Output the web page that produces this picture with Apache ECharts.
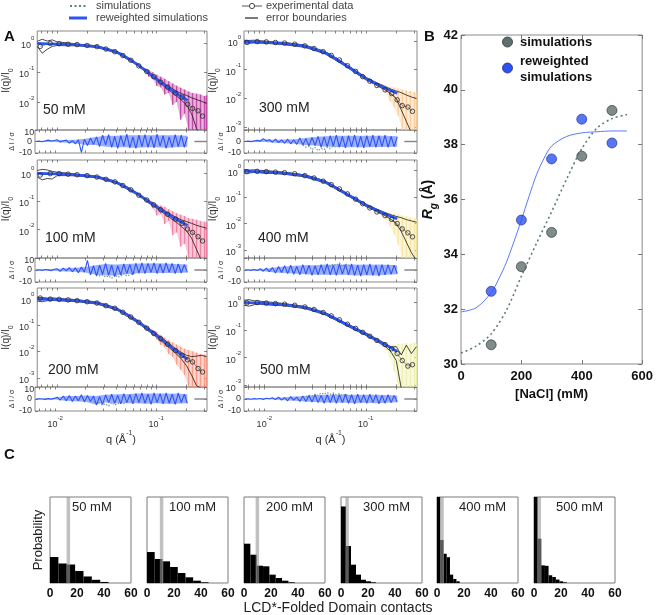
<!DOCTYPE html>
<html>
<head>
<meta charset="utf-8">
<title>SAXS reweighting figure</title>
<script src="https://cdn.jsdelivr.net/npm/echarts@6.0.0/dist/echarts.min.js"></script>
<style>
html,body{margin:0;padding:0;background:#ffffff;}
#chart{width:656px;height:615px;}
</style>
</head>
<body>
<div id="chart"></div>
<script>
const FONT = "'Liberation Sans', Arial, Helvetica, sans-serif";

// ================= Panel A data (log10 units) =================
const concLabels = ['50 mM', '100 mM', '200 mM', '300 mM', '400 mM', '500 mM'];

// reweighted / simulated curves: log10 q  vs  log10 I/I0
const log10qFit = [-2.2, -2.0, -1.8, -1.6, -1.4, -1.3, -1.2, -1.1, -1.0, -0.9, -0.8, -0.69];
const rew50  = [-0.02, -0.04, -0.07, -0.13, -0.32, -0.50, -0.72, -0.97, -1.23, -1.48, -1.72, -1.95];
const rew100 = [-0.02, -0.04, -0.08, -0.15, -0.35, -0.52, -0.73, -0.96, -1.20, -1.43, -1.65, -1.85];
const rew200 = [-0.02, -0.04, -0.08, -0.17, -0.40, -0.60, -0.85, -1.12, -1.40, -1.70, -2.00, -2.30];
const rew300 = [-0.02, -0.04, -0.09, -0.18, -0.41, -0.61, -0.84, -1.07, -1.30, -1.48, -1.65, -1.82];
const rew400 = [-0.02, -0.05, -0.10, -0.20, -0.43, -0.63, -0.86, -1.08, -1.30, -1.48, -1.65, -1.82];
const rew500 = [-0.02, -0.05, -0.10, -0.20, -0.42, -0.60, -0.79, -0.97, -1.15, -1.35, -1.55, -1.77];
const sim50  = [-0.02, -0.04, -0.07, -0.13, -0.31, -0.49, -0.71, -0.96, -1.22, -1.47, -1.71, -1.94];
const sim100 = [-0.02, -0.04, -0.07, -0.14, -0.33, -0.50, -0.71, -0.94, -1.18, -1.41, -1.63, -1.84];
const sim200 = [-0.02, -0.04, -0.07, -0.16, -0.38, -0.58, -0.83, -1.10, -1.38, -1.68, -1.98, -2.28];
const sim300 = [-0.02, -0.04, -0.08, -0.16, -0.37, -0.57, -0.80, -1.03, -1.27, -1.46, -1.64, -1.81];
const sim400 = [-0.02, -0.05, -0.10, -0.21, -0.45, -0.66, -0.88, -1.10, -1.31, -1.49, -1.66, -1.83];
const sim500 = [-0.02, -0.05, -0.11, -0.22, -0.44, -0.62, -0.81, -0.99, -1.17, -1.37, -1.57, -1.78];

// experimental points
const log10qExp = [-2.17, -2.07, -1.98, -1.89, -1.8, -1.7, -1.6, -1.51, -1.42, -1.34, -1.26, -1.18, -1.1, -1.03, -0.96, -0.89, -0.81, -0.745, -0.69, -0.64, -0.585, -0.54];
const exp50  = [-0.12, -0.02, -0.03, -0.05, -0.06, -0.09, -0.13, -0.21, -0.30, -0.43, -0.59, -0.78, -0.97, -1.15, -1.33, -1.50, -1.70, -1.84, -2.08, -2.22, -2.30, -2.48];
const exp100 = [-0.08, -0.03, -0.03, -0.05, -0.07, -0.10, -0.15, -0.23, -0.32, -0.45, -0.60, -0.79, -0.96, -1.13, -1.30, -1.46, -1.63, -1.78, -1.98, -2.10, -2.25, -2.40];
const exp200 = [0.02, -0.02, -0.03, -0.05, -0.08, -0.12, -0.17, -0.27, -0.37, -0.52, -0.70, -0.90, -1.12, -1.32, -1.52, -1.73, -1.97, -2.15, -2.32, -2.40, -2.65, -2.78];
const exp300 = [-0.05, -0.02, -0.03, -0.05, -0.07, -0.11, -0.17, -0.26, -0.37, -0.50, -0.66, -0.86, -1.06, -1.24, -1.40, -1.55, -1.70, -1.83, -2.05, -2.25, -2.30, -2.45];
const exp400 = [-0.04, -0.03, -0.04, -0.06, -0.08, -0.12, -0.19, -0.28, -0.40, -0.53, -0.69, -0.88, -1.08, -1.25, -1.41, -1.56, -1.70, -1.84, -2.00, -2.20, -2.35, -2.50];
const exp500 = [-0.03, -0.02, -0.04, -0.06, -0.08, -0.12, -0.18, -0.27, -0.38, -0.50, -0.64, -0.80, -0.95, -1.09, -1.23, -1.38, -1.53, -1.68, -1.85, -2.10, -2.30, -2.25];

// error boundaries
const log10qBound = [-2.2, -2.15, -2.1, -2.05, -2.0, -1.9, -1.8, -1.6, -1.4, -1.2, -1.0, -0.9, -0.8, -0.75, -0.7, -0.65, -0.6, -0.55, -0.5];
const up50  = [0.05, 0.12, 0.06, 0.10, 0.03, 0.00, -0.04, -0.10, -0.29, -0.69, -1.19, -1.43, -1.64, -1.72, -1.78, -1.86, -1.92, -1.98, -2.05];
const lo50  = [-0.12, -0.35, -0.22, -0.12, -0.09, -0.10, -0.10, -0.16, -0.35, -0.75, -1.27, -1.54, -1.80, -1.95, -2.10, -2.40, -2.90, -3.20, -3.20];
const up100 = [0.08, 0.12, 0.10, 0.05, 0.02, -0.01, -0.05, -0.12, -0.32, -0.70, -1.16, -1.38, -1.58, -1.66, -1.72, -1.78, -1.85, -1.90, -1.95];
const lo100 = [-0.15, -0.25, -0.20, -0.22, -0.10, -0.10, -0.11, -0.18, -0.38, -0.77, -1.25, -1.50, -1.75, -1.90, -2.05, -2.30, -2.70, -3.10, -3.10];
const up200 = [0.05, 0.04, 0.02, 0.03, 0.01, -0.02, -0.04, -0.13, -0.36, -0.80, -1.34, -1.63, -1.93, -2.05, -2.15, -2.20, -2.18, -2.15, -2.20];
const lo200 = [-0.10, -0.12, -0.08, -0.07, -0.08, -0.10, -0.12, -0.21, -0.44, -0.90, -1.46, -1.78, -2.10, -2.30, -2.55, -2.90, -3.30, -3.40, -3.40];
const up300 = [0.03, 0.02, 0.03, 0.01, 0.00, -0.03, -0.05, -0.14, -0.37, -0.80, -1.26, -1.44, -1.60, -1.68, -1.74, -1.80, -1.88, -1.95, -2.00];
const lo300 = [-0.07, -0.08, -0.06, -0.07, -0.08, -0.10, -0.13, -0.22, -0.45, -0.88, -1.35, -1.53, -1.72, -1.85, -2.00, -2.40, -2.80, -3.20, -3.20];
const up400 = [0.04, 0.02, 0.03, 0.01, 0.00, -0.03, -0.06, -0.16, -0.39, -0.82, -1.26, -1.44, -1.60, -1.67, -1.73, -1.78, -1.85, -1.90, -1.95];
const lo400 = [-0.10, -0.09, -0.07, -0.08, -0.10, -0.11, -0.14, -0.24, -0.47, -0.90, -1.35, -1.53, -1.72, -1.85, -2.00, -2.30, -2.70, -3.10, -3.40];
const up500 = [0.06, 0.08, 0.04, 0.03, 0.01, -0.02, -0.06, -0.16, -0.38, -0.75, -1.11, -1.31, -1.50, -1.62, -1.60, -1.90, -1.55, -1.85, -1.60];
const lo500 = [-0.12, -0.15, -0.10, -0.08, -0.10, -0.12, -0.14, -0.24, -0.46, -0.83, -1.20, -1.40, -1.62, -1.80, -2.10, -3.10, -3.10, -3.10, -3.10];

// coloured experimental-noise band at high q
const log10qBand = [-1.12, -1.08, -1.04, -1.0, -0.96, -0.92, -0.88, -0.84, -0.8, -0.76, -0.72, -0.68, -0.64, -0.6, -0.56, -0.52, -0.5];
const bandHi50  = [-0.86, -0.92, -1.00, -1.08, -1.15, -1.22, -1.30, -1.38, -1.45, -1.52, -1.58, -1.65, -1.70, -1.72, -1.75, -1.80, -1.78];
const bandLo50  = [-0.98, -1.15, -1.22, -1.45, -1.50, -1.75, -1.70, -2.10, -2.00, -2.60, -2.40, -3.00, -3.00, -3.00, -3.00, -3.00, -3.00];
const bandHi100 = [-0.88, -0.95, -1.02, -1.10, -1.15, -1.20, -1.28, -1.35, -1.42, -1.48, -1.52, -1.60, -1.62, -1.65, -1.70, -1.72, -1.75];
const bandLo100 = [-0.95, -1.10, -1.25, -1.50, -1.45, -1.80, -1.70, -2.20, -2.10, -2.60, -2.50, -3.00, -3.00, -3.00, -3.00, -3.00, -3.00];
const bandHi200 = [-1.02, -1.10, -1.20, -1.28, -1.38, -1.48, -1.58, -1.66, -1.74, -1.82, -1.90, -1.95, -2.00, -2.05, -2.10, -2.12, -2.15];
const bandLo200 = [-1.10, -1.25, -1.40, -1.55, -1.75, -1.85, -2.10, -2.20, -2.50, -2.70, -2.90, -3.40, -3.40, -3.40, -3.40, -3.40, -3.40];
const bandHi300 = [null, null, null, null, null, null, -1.45, -1.50, -1.55, -1.60, -1.62, -1.65, -1.70, -1.72, -1.75, -1.78, -1.80];
const bandLo300 = [null, null, null, null, null, null, -1.58, -1.70, -1.80, -2.10, -2.30, -2.60, -3.10, -3.10, -3.10, -3.10, -3.10];
const bandHi400 = [null, null, null, null, null, null, -1.48, -1.52, -1.56, -1.60, -1.62, -1.66, -1.70, -1.72, -1.76, -1.80, -1.82];
const bandLo400 = [null, null, null, null, null, null, -1.60, -1.72, -1.85, -2.10, -2.40, -2.80, -3.30, -3.30, -3.30, -3.30, -3.30];
const bandHi500 = [null, null, null, null, null, null, null, null, -1.60, -1.62, -1.55, -1.50, -1.50, -1.48, -1.50, -1.45, -1.50];
const bandLo500 = [null, null, null, null, null, null, null, null, -1.75, -2.00, -2.50, -3.05, -3.05, -3.05, -3.05, -3.05, -3.05];

// residuals (ΔI/σ)
const log10qRes = [-2.19, -2.16, -2.13, -2.10, -2.07, -2.04, -2.01, -1.98, -1.95, -1.92,
  -1.89, -1.86, -1.83, -1.80, -1.77, -1.74, -1.71, -1.68, -1.65, -1.62,
  -1.59, -1.56, -1.53, -1.50, -1.47, -1.44, -1.41, -1.38, -1.35, -1.32,
  -1.29, -1.26, -1.23, -1.20, -1.17, -1.14, -1.11, -1.08, -1.05, -1.02,
  -0.99, -0.96, -0.93, -0.90, -0.87, -0.84, -0.81, -0.78, -0.75, -0.72, -0.69];
const res50 = [0, 0.3, -0.2, 0.5, 1.2, 0.4, 0.8, 1.5, -0.5, 0.6,
  1.2, -1.5, 0.8, -2.0, 1.5, -9.5, 2.0, -3.5, 3.0, -2.5,
  4.0, -4.5, 5.5, -3.0, 6.0, -5.0, 4.5, -6.0, 5.0, -4.0,
  6.5, -5.5, 4.0, -6.0, 5.5, -4.5, 6.0, -5.0, 4.5, -5.5,
  6.5, -4.0, 5.0, -6.0, 4.0, -5.0, 6.0, -4.5, 5.5, -5.0, 4.0];
const res100 = [0, 0.2, -0.3, 0.4, 0.1, -0.5, 0.6, 1.0, -1.2, 1.5,
  -0.8, 2.0, -1.5, 1.8, -2.2, 2.5, -1.8, 8.0, -4.0, 3.5,
  -5.0, 4.0, -3.5, 5.5, -4.5, 4.0, -5.5, 3.5, -4.0, 5.0,
  -3.0, 4.5, -4.0, 5.5, -2.5, 6.0, -3.0, 5.5, -2.0, 6.0,
  -3.0, 5.0, -2.5, 6.0, -2.0, 5.5, -3.0, 5.0, -2.5, 4.5, -2.0];
const res200 = [0, 0.2, 0.0, -0.3, 0.3, -0.2, 0.5, 1.5, -1.0, 2.5,
  -1.5, 3.0, -2.0, 2.5, -1.5, 3.5, -2.5, 3.0, -2.0, 2.5,
  -5.0, 2.0, -4.5, 3.5, -3.0, 4.0, -3.5, 3.0, -4.0, 4.5,
  -3.0, 3.5, -4.0, 4.5, -3.0, 5.0, -3.5, 4.0, -4.5, 5.0,
  -3.0, 4.5, -4.0, 5.0, -3.5, 4.0, -4.5, 5.0, -3.0, 4.0, -3.5];
const res300 = [0, 0.3, -0.2, 0.5, 1.0, 0.2, 2.5, 0.5, 1.5, -0.5,
  2.0, -1.0, 1.5, -1.5, 2.0, -2.0, 1.5, -2.5, 3.0, -3.0,
  2.5, -4.0, 3.5, -3.5, 4.5, -5.0, 4.0, -4.5, 5.0, -4.0,
  5.5, -5.0, 4.5, -5.5, 5.0, -4.5, 5.5, -5.0, 4.5, -5.5,
  5.0, -4.5, 5.5, -5.0, 5.0, -4.5, 5.5, -5.0, 4.5, -4.5, 4.0];
const res400 = [0, 0.2, -0.3, 0.5, -0.5, 1.0, -1.0, 1.5, -1.5, 2.0,
  -2.5, 3.0, -2.0, 3.5, -3.0, 4.0, -3.5, 3.0, -4.0, 4.5,
  -3.5, 4.0, -4.5, 3.5, -4.0, 4.5, -3.5, 5.0, -4.0, 4.0,
  -4.5, 5.0, -3.5, 4.5, -4.0, 5.0, -4.5, 4.0, -5.0, 4.5,
  -4.0, 5.0, -4.5, 4.0, -5.0, 4.5, -4.0, 4.5, -3.5, 4.0, -3.0];
const res500 = [0, 0.1, -0.2, 0.3, 0.0, 0.4, -0.3, 0.6, 0.2, 1.0,
  -0.5, 1.5, -1.0, 1.2, -1.5, 2.0, -1.0, 1.5, -2.0, 2.5,
  -2.0, 3.0, -2.5, 3.5, -3.0, 3.0, -3.5, 3.5, -3.0, 4.0,
  -3.5, 3.5, -3.0, 4.0, -3.5, 3.5, -4.0, 4.0, -3.0, 3.5,
  -3.5, 4.0, -3.0, 3.5, -4.0, 3.0, -3.5, 3.5, -3.0, 3.0, -2.5];
// envelope of the dense residual noise
const log10qEnv = [-2.19, -2.0, -1.9, -1.8, -1.7, -1.6, -1.5, -1.4, -1.3, -1.2, -1.1, -1.0, -0.9, -0.8, -0.69];
const envHi50  = [0.3, 1.2, 1.2, 1.5, 2.5, 4.0, 5.0, 5.0, 5.5, 5.5, 5.5, 5.5, 5.5, 5.5, 5.0];
const envLo50  = [-0.3, -0.5, -1.0, -1.5, -3.0, -3.0, -4.5, -5.0, -5.0, -5.5, -5.0, -5.0, -5.5, -5.0, -4.5];
const envHi100 = [0.3, 0.8, 1.5, 1.8, 2.5, 4.0, 5.0, 4.5, 5.0, 5.5, 5.5, 5.5, 5.5, 5.0, 4.5];
const envLo100 = [-0.3, -0.8, -1.2, -1.5, -2.0, -4.0, -4.5, -4.5, -3.5, -3.0, -2.5, -2.5, -2.5, -2.5, -2.0];
const envHi200 = [0.3, 1.0, 2.5, 2.5, 3.0, 2.5, 3.5, 4.0, 4.0, 4.5, 4.5, 4.5, 4.5, 4.5, 4.0];
const envLo200 = [-0.3, -0.5, -1.5, -1.8, -2.2, -4.5, -3.0, -3.5, -3.5, -3.5, -4.0, -3.5, -4.0, -4.0, -3.5];
const envHi300 = [0.3, 2.0, 1.5, 1.8, 2.0, 3.0, 4.0, 4.5, 5.0, 5.0, 5.0, 5.0, 5.0, 5.0, 4.5];
const envLo300 = [-0.3, -0.5, -1.0, -1.5, -2.0, -3.0, -3.5, -4.5, -4.5, -5.0, -5.0, -5.0, -4.8, -4.8, -4.5];
const envHi400 = [0.3, 1.0, 2.0, 3.0, 3.5, 4.0, 4.0, 4.5, 4.5, 4.5, 4.5, 4.5, 4.5, 4.3, 4.0];
const envLo400 = [-0.3, -1.0, -2.0, -2.5, -3.0, -3.5, -4.0, -4.0, -4.0, -4.0, -4.5, -4.5, -4.5, -4.0, -3.5];
const envHi500 = [0.2, 0.6, 1.0, 1.5, 2.0, 2.5, 3.2, 3.5, 3.5, 3.5, 3.5, 3.5, 3.5, 3.3, 3.0];
const envLo500 = [-0.2, -0.3, -0.5, -1.0, -1.5, -2.0, -2.5, -3.0, -3.0, -3.2, -3.5, -3.2, -3.5, -3.2, -2.8];
// residuals of the un-reweighted simulations (start index into log10qRes)
const simResStart = [0, 20, 19, 19, 26, 20];
const simRes50  = [];
const simRes100 = [-3, -5, -4, -6, -5, -7, -4, -6, -5, -3, -5, -4, -3, -2];
const simRes200 = [-2, -4, -3, -5, -4, -6, -3, -5, -4, -3, -4, -2];
const simRes300 = [-3, -5, -4, -7, -5, -8, -6, -7, -5, -6, -4, -5, -3, -4, -2];
const simRes400 = [2, 4, 3, 5, 4, 6, 3, 5, 4, 3];
const simRes500 = [2, 3, 2.5, 4, 3, 5, 4, 5.5, 4, 5, 3.5, 4.5, 3, 4, 2.5, 3];
const expResZeroQ = [-0.62, -0.495];
const expResZeroV = [0, 0];
const qTickLabels = [-2, -1];

// ================= Panel B data =================
const naclConc = [100, 200, 300, 400, 500];
const rgSimulations = [30.7, 33.55, 34.8, 37.58, 39.25];
const rgReweighted = [32.65, 35.25, 37.48, 38.93, 38.06];
const fitRewX = [0, 50, 100, 125, 150, 175, 200, 225, 250, 275, 300, 350, 400, 450, 500, 550];
const fitRewY = [31.9, 32.05, 32.6, 33.1, 33.7, 34.45, 35.25, 36.1, 36.9, 37.5, 37.95, 38.3, 38.43, 38.47, 38.5, 38.5];
const fitSimX = [0, 50, 100, 150, 200, 250, 300, 350, 400, 450, 500, 550];
const fitSimY = [30.4, 30.65, 31.1, 31.95, 33.2, 34.4, 35.55, 36.75, 37.85, 38.6, 38.95, 39.1];

// ================= Panel C data =================
const histEdges50  = [0, 6.2, 12.4, 18.6, 24.8, 31, 37.2, 43.4];
const histProb50   = [0.302, 0.227, 0.215, 0.14, 0.076, 0.037, 0.012];
const histEdges100 = [0, 5.7, 11.4, 17.1, 22.8, 28.5, 34.2, 39.9, 45.6];
const histProb100  = [0.36, 0.279, 0.252, 0.186, 0.116, 0.066, 0.027, 0.008];
const histEdges200 = [0, 4.7, 9.4, 14.1, 18.8, 23.5, 28.2, 32.9, 37.6];
const histProb200  = [0.457, 0.329, 0.201, 0.194, 0.097, 0.058, 0.027, 0.008];
const histEdges300 = [0, 3.7, 7.4, 11.1, 14.8, 18.5, 22.2, 25.9];
const histProb300  = [0.89, 0.43, 0.213, 0.097, 0.038, 0.02, 0.008];
const histEdges400 = [0, 2.4, 4.8, 7.2, 9.6, 12, 14.4, 16.8];
const histProb400  = [1.1, 0.5, 0.34, 0.3, 0.097, 0.047, 0.02];
const histEdges500 = [0, 2.7, 5.4, 8.1, 10.8, 13.5, 16.2, 18.9, 21.6, 24.3];
const histProb500  = [1.1, 0.515, 0.205, 0.2, 0.09, 0.07, 0.04, 0.02, 0.008];
const contactMark  = [13.6, 10.8, 9.9, 4.5, 3.7, 3.9];

// ================= build =================
const rewAll = [rew50, rew100, rew200, rew300, rew400, rew500];
const simAll = [sim50, sim100, sim200, sim300, sim400, sim500];
const expAll = [exp50, exp100, exp200, exp300, exp400, exp500];
const upAll = [up50, up100, up200, up300, up400, up500];
const loAll = [lo50, lo100, lo200, lo300, lo400, lo500];
const bandHiAll = [bandHi50, bandHi100, bandHi200, bandHi300, bandHi400, bandHi500];
const bandLoAll = [bandLo50, bandLo100, bandLo200, bandLo300, bandLo400, bandLo500];
const resAll = [res50, res100, res200, res300, res400, res500];
const envHiAll = [envHi50, envHi100, envHi200, envHi300, envHi400, envHi500];
const envLoAll = [envLo50, envLo100, envLo200, envLo300, envLo400, envLo500];
const simResAll = [simRes50, simRes100, simRes200, simRes300, simRes400, simRes500];
const histEdgesAll = [histEdges50, histEdges100, histEdges200, histEdges300, histEdges400, histEdges500];
const histProbAll = [histProb50, histProb100, histProb200, histProb300, histProb400, histProb500];

const bandRGB = ['188,58,160', '236,120,158', '244,148,128', '250,202,148', '246,228,158', '236,240,170'];
const BLUE = '#2d55f6';
const BLUE_RGB = '45,85,246';
const SIMC = '#4e8a7c';
const BOX = '#8a8a8a';

const zip = (xs, ys) => xs.map((x, i) => (ys[i] == null ? null : [x, ys[i]])).filter(Boolean);

const grids = [], xAxes = [], yAxes = [], series = [], graphics = [];
function addGrid(g) {
  grids.push(Object.assign({show: true, borderColor: BOX, borderWidth: 1, backgroundColor: 'rgba(0,0,0,0)', containLabel: false}, g));
  return grids.length - 1;
}

const RICH = {
  b: {fontSize: 9, lineHeight: 14, verticalAlign: 'bottom', color: '#333', fontFamily: FONT},
  sup: {fontSize: 6, lineHeight: 6, verticalAlign: 'top', color: '#333', fontFamily: FONT}
};
const xMinA = -2.2, xMaxA = -0.495;
const qTicks = [];
for (let n = -3; n <= -1; n++) for (let k = 1; k <= 9; k++) {
  const v = n + Math.log10(k);
  if (v > xMinA && v < xMaxA) qTicks.push(v);
}
const NOLINE = {show: false, onZero: false};
function xAx(gi, pos, extra) {
  return Object.assign({
    gridIndex: gi, type: 'value', position: pos, min: xMinA, max: xMaxA,
    axisLine: NOLINE,
    axisTick: {show: true, inside: true, length: 2.5, customValues: qTicks, lineStyle: {color: '#666', width: 0.8}},
    axisLabel: {show: false}, splitLine: {show: false}
  }, extra || {});
}
const yRangeA = [[-2.95, 0.4], [-3.0, 0.45], [-3.35, 0.4], [-3.1, 0.35], [-3.3, 0.4], [-3.05, 0.5]];
function yMain(gi, pos, yr, showLabel) {
  const ints = [];
  for (let e = Math.ceil(yr[0]); e <= Math.floor(yr[1]); e++) ints.push(e);
  const labVals = [yr[0]].concat(ints.filter(e => e > yr[0] + 0.01));
  return {
    gridIndex: gi, type: 'value', position: pos, min: yr[0], max: yr[1],
    axisLine: NOLINE,
    axisTick: {show: true, inside: true, length: 3, customValues: ints, lineStyle: {color: '#666', width: 0.8}},
    axisLabel: showLabel ? {
      show: true, customValues: labVals, margin: 3, rich: RICH,
      formatter: v => (Math.abs(v - yr[0]) < 0.01 ? '{b|10}' : '{b|10}{sup|' + v + '}')
    } : {show: false},
    splitLine: {show: false},
    name: showLabel ? '{a|I(q)/I}{s|0}' : '',
    nameLocation: 'middle', nameRotate: 90, nameGap: 17,
    nameTextStyle: {rich: {
      a: {fontSize: 10, lineHeight: 14, verticalAlign: 'top', color: '#333', fontFamily: FONT},
      s: {fontSize: 7, lineHeight: 6, verticalAlign: 'bottom', color: '#333', fontFamily: FONT}
    }}
  };
}
function yRes(gi, pos, showLabel) {
  return {
    gridIndex: gi, type: 'value', position: pos, min: -10, max: 10,
    axisLine: NOLINE,
    axisTick: {show: true, inside: true, length: 3, customValues: [-10, 0, 10], lineStyle: {color: '#666', width: 0.8}},
    axisLabel: showLabel ? {show: true, customValues: [-10, 0], fontSize: 9, color: '#333', margin: 3, fontFamily: FONT} : {show: false},
    splitLine: {show: false},
    name: showLabel ? 'Δ I / σ' : '', nameLocation: 'middle', nameRotate: 90, nameGap: 14,
    nameTextStyle: {fontSize: 7, color: '#333', fontFamily: FONT}
  };
}
function makeBandRender(data, rgb, fillAlpha, lineAlpha, lineW) {
  return function (params, api) {
    const cs = params.coordSys;
    const cy = y => Math.max(cs.y, Math.min(cs.y + cs.height, y));
    const i = params.dataIndex;
    const d = data[i];
    const a = api.coord([d[0], d[2]]), b = api.coord([d[0], d[1]]);
    const children = [];
    if (i < data.length - 1) {
      const n = data[i + 1];
      const c = api.coord([n[0], n[2]]), e = api.coord([n[0], n[1]]);
      children.push({type: 'polygon', shape: {points: [[a[0], cy(a[1])], [c[0], cy(c[1])], [e[0], cy(e[1])], [b[0], cy(b[1])]]},
        style: {fill: 'rgba(' + rgb + ',' + fillAlpha + ')'}});
    }
    if (lineW > 0) {
      children.push({type: 'line', shape: {x1: a[0], y1: cy(a[1]), x2: b[0], y2: cy(b[1])},
        style: {stroke: 'rgba(' + rgb + ',' + lineAlpha + ')', lineWidth: lineW}});
    }
    return {type: 'group', children: children};
  };
}

const colLeft = [35, 244], colW = [172, 173];
const mainTop = [31, 160, 288], mainH = [99, 98, 99];
const resTop = [130, 258, 387], resH = [23, 24, 24];
const concPos = [[43, 110], [45, 238], [48, 370], [259, 108], [258, 238], [260, 370]];

for (let p = 0; p < 6; p++) {
  const col = p < 3 ? 0 : 1, row = p % 3;
  const gm = addGrid({left: colLeft[col], top: mainTop[row], width: colW[col], height: mainH[row]});
  const gr = addGrid({left: colLeft[col], top: resTop[row], width: colW[col], height: resH[row]});
  const xm = xAxes.length;
  xAxes.push(xAx(gm, 'bottom'));
  xAxes.push(xAx(gm, 'top'));
  const xr = xAxes.length;
  const bottomExtra = row === 2 ? {
    axisLabel: {show: true, customValues: qTickLabels, margin: 4, rich: RICH, formatter: v => '{b|10}{sup|' + v + '}'},
    name: '{b|q (Å}{sup|-1}{b|)}', nameLocation: 'middle', nameGap: 13,
    nameTextStyle: {rich: {
      b: {fontSize: 11, lineHeight: 16, verticalAlign: 'bottom', color: '#333', fontFamily: FONT},
      sup: {fontSize: 7, lineHeight: 8, verticalAlign: 'top', color: '#333', fontFamily: FONT}
    }}
  } : null;
  xAxes.push(xAx(gr, 'bottom', bottomExtra));
  xAxes.push(xAx(gr, 'top'));
  const ym = yAxes.length;
  yAxes.push(yMain(gm, 'left', yRangeA[p], true));
  yAxes.push(yMain(gm, 'right', yRangeA[p], false));
  const yr = yAxes.length;
  yAxes.push(yRes(gr, 'left', true));
  yAxes.push(yRes(gr, 'right', false));

  // coloured noise band of the experimental curve
  const bandData = log10qBand.map((q, i) => (bandHiAll[p][i] == null ? null : [q, bandLoAll[p][i], bandHiAll[p][i]])).filter(Boolean);
  series.push({type: 'custom', xAxisIndex: xm, yAxisIndex: ym, data: bandData, encode: {x: 0, y: [1, 2]}, z: 1, silent: true,
    renderItem: makeBandRender(bandData, bandRGB[p], 0.38, 0.85, 1.4)});
  // error boundaries
  series.push({type: 'line', xAxisIndex: xm, yAxisIndex: ym, data: zip(log10qBound, upAll[p]), symbol: 'none', z: 2,
    lineStyle: {color: '#1a1a1a', width: 0.8}});
  series.push({type: 'line', xAxisIndex: xm, yAxisIndex: ym, data: zip(log10qBound, loAll[p]), symbol: 'none', z: 2,
    lineStyle: {color: '#1a1a1a', width: 0.8}});
  // experimental connecting line
  series.push({type: 'line', xAxisIndex: xm, yAxisIndex: ym, data: zip(log10qExp, expAll[p]), symbol: 'none', z: 2,
    lineStyle: {color: '#555', width: 0.6}});
  // simulations (dotted) and reweighted (blue)
  series.push({type: 'line', xAxisIndex: xm, yAxisIndex: ym, data: zip(log10qFit, simAll[p]), symbol: 'none', z: 3,
    lineStyle: {color: SIMC, width: 1.6, type: [1.5, 2]}});
  series.push({type: 'line', xAxisIndex: xm, yAxisIndex: ym, data: zip(log10qFit, rewAll[p]), symbol: 'none', z: 4, smooth: 0.2,
    lineStyle: {color: BLUE, width: 2.6}});
  // experimental circles (hollow)
  series.push({type: 'scatter', xAxisIndex: xm, yAxisIndex: ym, data: zip(log10qExp, expAll[p]), symbol: 'circle', symbolSize: 4.5, z: 6,
    itemStyle: {color: 'rgba(255,255,255,0)', borderColor: '#262626', borderWidth: 1}});

  // residuals
  series.push({type: 'line', xAxisIndex: xr, yAxisIndex: yr, data: zip(expResZeroQ, expResZeroV), symbol: 'none', z: 2,
    lineStyle: {color: '#888', width: 1.3}});
  const envData = log10qEnv.map((q, i) => [q, envLoAll[p][i], envHiAll[p][i]]);
  series.push({type: 'custom', xAxisIndex: xr, yAxisIndex: yr, data: envData, encode: {x: 0, y: [1, 2]}, z: 2, silent: true,
    renderItem: makeBandRender(envData, BLUE_RGB, 0.48, 0, 0)});
  if (simResAll[p].length) {
    const st = simResStart[p];
    const sd = simResAll[p].map((v, i) => [log10qRes[st + i], v]);
    series.push({type: 'line', xAxisIndex: xr, yAxisIndex: yr, data: sd, symbol: 'none', z: 2,
      lineStyle: {color: '#6f958b', width: 1.1, type: [1.5, 1.5]}});
  }
  series.push({type: 'line', xAxisIndex: xr, yAxisIndex: yr, data: zip(log10qRes, resAll[p]), symbol: 'none', z: 3,
    lineStyle: {color: BLUE, width: 1.1}});

  graphics.push({type: 'text', x: concPos[p][0], y: concPos[p][1],
    style: {text: concLabels[p], font: '14px ' + FONT, fill: '#222', align: 'left', verticalAlign: 'middle'}});
}

// ---------- Panel B ----------
const gB = addGrid({left: 461, top: 35, width: 183, height: 329});
const xb = xAxes.length;
xAxes.push({gridIndex: gB, type: 'value', position: 'bottom', min: 0, max: 600, interval: 200,
  axisLine: NOLINE, axisTick: {show: true, inside: true, length: 4, lineStyle: {color: '#777'}},
  axisLabel: {color: '#111', fontSize: 13, fontWeight: 'bold', margin: 6, fontFamily: FONT}, splitLine: {show: false},
  name: '[NaCl] (mM)', nameLocation: 'middle', nameGap: 23,
  nameTextStyle: {fontSize: 13, fontWeight: 'bold', color: '#111', fontFamily: FONT}});
xAxes.push({gridIndex: gB, type: 'value', position: 'top', min: 0, max: 600, interval: 200,
  axisLine: NOLINE, axisTick: {show: true, inside: true, length: 4, lineStyle: {color: '#777'}},
  axisLabel: {show: false}, splitLine: {show: false}});
const yb = yAxes.length;
yAxes.push({gridIndex: gB, type: 'value', position: 'left', min: 30, max: 42, interval: 2,
  axisLine: NOLINE, axisTick: {show: true, inside: true, length: 4, lineStyle: {color: '#777'}},
  axisLabel: {color: '#111', fontSize: 13, fontWeight: 'bold', margin: 3, fontFamily: FONT}, splitLine: {show: false},
  name: '{r|R}{g|g}{n| (Å)}', nameLocation: 'middle', nameRotate: 90, nameGap: 19,
  nameTextStyle: {rich: {
    r: {fontSize: 14, fontWeight: 'bold', fontStyle: 'italic', lineHeight: 18, verticalAlign: 'top', color: '#111', fontFamily: FONT},
    g: {fontSize: 10, fontWeight: 'bold', fontStyle: 'italic', lineHeight: 8, verticalAlign: 'bottom', color: '#111', fontFamily: FONT},
    n: {fontSize: 14, fontWeight: 'bold', lineHeight: 18, verticalAlign: 'top', color: '#111', fontFamily: FONT}
  }}});
yAxes.push({gridIndex: gB, type: 'value', position: 'right', min: 30, max: 42, interval: 2,
  axisLine: NOLINE, axisTick: {show: true, inside: true, length: 4, lineStyle: {color: '#777'}},
  axisLabel: {show: false}, splitLine: {show: false}});
series.push({type: 'line', xAxisIndex: xb, yAxisIndex: yb, data: zip(fitSimX, fitSimY), symbol: 'none', smooth: 0.3, z: 2,
  lineStyle: {color: '#5b7d78', width: 1.6, type: [2, 3]}});
series.push({type: 'line', xAxisIndex: xb, yAxisIndex: yb, data: zip(fitRewX, fitRewY), symbol: 'none', smooth: 0.3, z: 2,
  lineStyle: {color: '#5a78ff', width: 1}});
series.push({type: 'scatter', xAxisIndex: xb, yAxisIndex: yb, data: zip(naclConc, rgSimulations), symbolSize: 10, z: 4,
  itemStyle: {color: '#5f6f6e', borderColor: '#2b3333', borderWidth: 0.8}});
series.push({type: 'scatter', xAxisIndex: xb, yAxisIndex: yb, data: zip(naclConc, rgReweighted), symbolSize: 10, z: 4,
  itemStyle: {color: '#2e52f2', borderColor: '#1b2c8a', borderWidth: 0.8}});

// ---------- Panel C ----------
const hLeft = [50, 147, 244, 341, 437, 534];
for (let h = 0; h < 6; h++) {
  const g = addGrid({left: hLeft[h], top: 497, width: 81, height: 86, borderColor: '#7a7a7a'});
  const xi = xAxes.length;
  xAxes.push({gridIndex: g, type: 'value', min: 0, max: 60, interval: 20,
    axisLine: NOLINE, axisTick: {show: false},
    axisLabel: {color: '#111', fontSize: 12, fontWeight: 'bold', margin: 5, fontFamily: FONT}, splitLine: {show: false}});
  const yi = yAxes.length;
  yAxes.push({gridIndex: g, type: 'value', min: 0, max: 1,
    axisLine: NOLINE, axisTick: {show: false}, axisLabel: {show: false}, splitLine: {show: false},
    name: h === 0 ? 'Probability' : '', nameLocation: 'middle', nameRotate: 90, nameGap: 5,
    nameTextStyle: {fontSize: 13, color: '#222', fontFamily: FONT}});
  const ed = histEdgesAll[h], pr = histProbAll[h];
  const hd = pr.map((v, i) => [ed[i], ed[i + 1], v]);
  series.push({type: 'custom', xAxisIndex: xi, yAxisIndex: yi, data: hd, encode: {x: [0, 1], y: 2}, z: 2, silent: true,
    renderItem: function (params, api) {
      const cs = params.coordSys;
      const a = api.coord([api.value(0), 0]), b = api.coord([api.value(1), api.value(2)]);
      const top = Math.max(cs.y, b[1]);
      return {type: 'rect', shape: {x: a[0], y: top, width: b[0] - a[0], height: a[1] - top}, style: {fill: '#000'}};
    }});
  series.push({type: 'line', xAxisIndex: xi, yAxisIndex: yi, data: [[contactMark[h], 0], [contactMark[h], 1]], symbol: 'none', z: 5,
    lineStyle: {color: 'rgba(150,150,150,0.6)', width: 3.5}});
  graphics.push({type: 'text', x: hLeft[h] + 22, y: 507,
    style: {text: concLabels[h], font: '13px ' + FONT, fill: '#222', align: 'left', verticalAlign: 'middle'}});
}

// ---------- texts, legends, panel letters ----------
graphics.push(
  {type: 'text', x: 4, y: 37, style: {text: 'A', font: 'bold 15px ' + FONT, fill: '#111', verticalAlign: 'middle'}},
  {type: 'text', x: 424, y: 37, style: {text: 'B', font: 'bold 15px ' + FONT, fill: '#111', verticalAlign: 'middle'}},
  {type: 'text', x: 4, y: 455, style: {text: 'C', font: 'bold 15px ' + FONT, fill: '#111', verticalAlign: 'middle'}},
  // panel A legend
  {type: 'line', shape: {x1: 70, y1: 6, x2: 86, y2: 6}, style: {stroke: SIMC, lineWidth: 2, lineDash: [2, 2.5]}},
  {type: 'text', x: 96, y: 6, style: {text: 'simulations', font: '11px ' + FONT, fill: '#444', verticalAlign: 'middle'}},
  {type: 'line', shape: {x1: 69, y1: 18, x2: 87, y2: 18}, style: {stroke: BLUE, lineWidth: 3}},
  {type: 'text', x: 96, y: 18, style: {text: 'reweighted simulations', font: '11px ' + FONT, fill: '#444', verticalAlign: 'middle'}},
  {type: 'line', shape: {x1: 242, y1: 6, x2: 262, y2: 6}, style: {stroke: '#555', lineWidth: 1}},
  {type: 'circle', shape: {cx: 252, cy: 6, r: 2.6}, style: {fill: '#fff', stroke: '#333', lineWidth: 0.9}},
  {type: 'text', x: 266, y: 6, style: {text: 'experimental data', font: '11px ' + FONT, fill: '#444', verticalAlign: 'middle'}},
  {type: 'line', shape: {x1: 245, y1: 18, x2: 258, y2: 18}, style: {stroke: '#222', lineWidth: 1.2}},
  {type: 'text', x: 266, y: 18, style: {text: 'error boundaries', font: '11px ' + FONT, fill: '#444', verticalAlign: 'middle'}},
  // panel B legend
  {type: 'circle', shape: {cx: 507.5, cy: 42, r: 5}, style: {fill: '#5f6f6e', stroke: '#2b3333', lineWidth: 0.8}},
  {type: 'text', x: 520, y: 42, style: {text: 'simulations', font: 'bold 13px ' + FONT, fill: '#111', verticalAlign: 'middle'}},
  {type: 'circle', shape: {cx: 507.5, cy: 68, r: 5}, style: {fill: '#2e52f2', stroke: '#1b2c8a', lineWidth: 0.8}},
  {type: 'text', x: 520, y: 69, style: {text: 'reweighted\nsimulations', font: 'bold 13px ' + FONT, lineHeight: 16, fill: '#111', verticalAlign: 'middle'}},
  // panel C x label
  {type: 'text', x: 338, y: 608, style: {text: 'LCD*-Folded Domain contacts', font: '14px ' + FONT, fill: '#222', align: 'center', verticalAlign: 'middle'}}
);

const chart = echarts.init(document.getElementById('chart'), null, {renderer: 'canvas', width: 656, height: 615});
chart.setOption({
  animation: false,
  backgroundColor: '#ffffff',
  textStyle: {fontFamily: FONT},
  grid: grids, xAxis: xAxes, yAxis: yAxes, series: series, graphic: graphics
});
</script>
</body>
</html>
